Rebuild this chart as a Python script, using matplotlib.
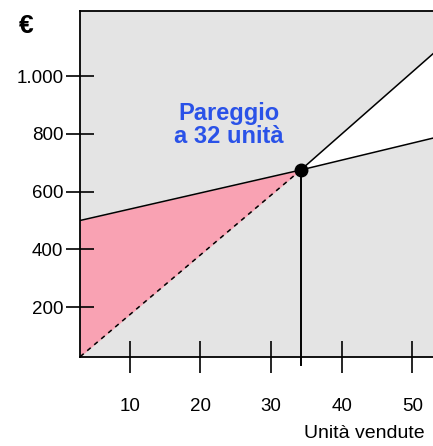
import matplotlib.pyplot as plt

# Dati
unita = [3, 34.2, 53]
costi = [500, 675, 786]
ricavi = [28, 675, 1080]
pareggio_x = 34.2
pareggio_y = 675

x_ticks = [10, 20, 30, 40, 50]
y_ticks = [200, 400, 600, 800, 1000]
y_labels = ["200", "400", "600", "800", "1.000"]

plt.rcParams['font.family'] = ['Liberation Sans', 'DejaVu Sans']

fig = plt.figure(figsize=(4.33, 4.46), dpi=100)
ax = fig.add_axes([80 / 433, 89 / 446, 353 / 433, 346 / 446])
ax.set_facecolor("#e4e4e4")

ax.set_xlim(2.97, 52.9)
ax.set_ylim(26.7, 1226)

# area di perdita (rosa) e di profitto (bianca)
ax.fill_between(unita[:2], costi[:2], ricavi[:2], color="#f9a2b3", lw=0)
ax.fill_between(unita[1:], costi[1:], ricavi[1:], color="white", lw=0)

# linee
ax.plot(unita, costi, color="black", lw=1.1)
ax.plot(unita[:2], ricavi[:2], color="black", lw=1.1, ls=(0, (3, 3)))
ax.plot(unita[1:], ricavi[1:], color="black", lw=1.1)
ax.plot([pareggio_x, pareggio_x], [pareggio_y, 0], color="black", lw=1.4, clip_on=False)
ax.plot(pareggio_x, pareggio_y, "o", color="black", ms=9, zorder=5)

fig.text(229 / 433, 1 - 125 / 446, "Pareggio\na 32 unità", ha="center", va="center",
         color="#2a52e8", fontsize=17, fontweight="bold", linespacing=1.0)

ax.spines["right"].set_visible(False)
for s in ["left", "bottom", "top"]:
    ax.spines[s].set_linewidth(1.3)

ax.set_xticks(x_ticks)
ax.set_yticks(y_ticks)
ax.set_yticklabels(y_labels)
ax.tick_params(axis="y", direction="inout", length=20, width=1.2, labelsize=13.5, pad=2)
ax.tick_params(axis="x", direction="inout", length=23, width=1.2, labelsize=13.5, pad=18)

fig.text(26 / 433, 1 - 26 / 446, "€", ha="center", va="center", fontsize=19, fontweight="bold")
fig.text(425 / 433, 1 - 433 / 446, "Unità vendute", ha="right", va="center", fontsize=14)

fig.savefig("out.png", dpi=100)
